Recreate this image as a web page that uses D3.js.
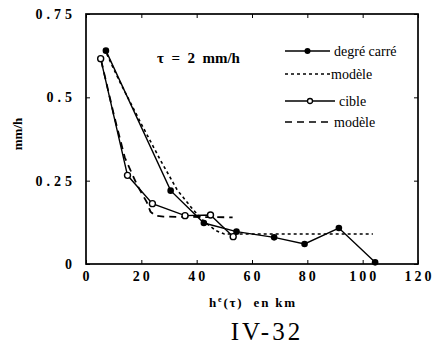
<!DOCTYPE html>
<html>
<head>
<meta charset="utf-8">
<script src="https://cdn.jsdelivr.net/npm/d3@7"></script>
<style>
  html, body { margin: 0; padding: 0; background: #fff; }
  svg { display: block; }
</style>
</head>
<body>
<svg id="chart" width="435" height="348"></svg>
<script>
// Observed rain-rate profile, "degré carré" network
const degreX = [7.2, 30.6, 42.6, 54.4, 68, 79, 91.4, 104.5];
const degreY = [0.64, 0.22, 0.123, 0.097, 0.08, 0.06, 0.108, 0.005];
// Fitted model for "degré carré"
const modeleDegreX = [7.5, 12, 20, 27, 32.9, 38.7, 43, 47, 50, 103.7];
const modeleDegreY = [0.63, 0.55, 0.42, 0.31, 0.223, 0.163, 0.125, 0.1, 0.09, 0.09];
// Observed profile, "cible" network
const cibleX = [5.3, 15, 24, 35.8, 45, 53.2];
const cibleY = [0.616, 0.266, 0.181, 0.145, 0.147, 0.082];
// Fitted model for "cible"
const modeleCibleX = [5.5, 10, 14, 18.4, 22, 23.3, 25, 28, 53];
const modeleCibleY = [0.61, 0.45, 0.32, 0.238, 0.185, 0.157, 0.145, 0.142, 0.14];

const xTicks = [0, 20, 40, 60, 80, 100, 120];
const yTicks = [0, 0.25, 0.5, 0.75];
const yTickLabels = ["0", "0.25", "0.5", "0.75"];

const legendLabels = ["degré carré", "modèle", "cible", "modèle"];

const svg = d3.select("#chart");
const serif = '"Liberation Serif", "Times New Roman", Times, serif';

const plotLeft = 86, plotRight = 418, plotTop = 14, plotBottom = 264;
const x = d3.scaleLinear().domain([0, 120]).range([plotLeft, plotRight]);
const y = d3.scaleLinear().domain([0, 0.75]).range([plotBottom, plotTop]);

// Frame
svg.append("rect")
  .attr("x", plotLeft).attr("y", plotTop)
  .attr("width", plotRight - plotLeft).attr("height", plotBottom - plotTop)
  .attr("fill", "none").attr("stroke", "#000").attr("stroke-width", 1.7);

// Axes with inward ticks
const gx = svg.append("g").attr("transform", `translate(0,${plotBottom})`)
  .call(d3.axisBottom(x).tickValues(xTicks).tickSize(-4).tickPadding(7).tickFormat(d3.format("d")));
const gxTop = svg.append("g").attr("transform", `translate(0,${plotTop})`)
  .call(d3.axisTop(x).tickValues(xTicks).tickSize(-4).tickFormat(""));
const gy = svg.append("g").attr("transform", `translate(${plotLeft},0)`)
  .call(d3.axisLeft(y).tickValues(yTicks).tickSize(-4).tickPadding(6)
    .tickFormat((d, i) => yTickLabels[i]));
const gyR = svg.append("g").attr("transform", `translate(${plotRight},0)`)
  .call(d3.axisRight(y).tickValues(yTicks).tickSize(-4).tickFormat(""));

[gx, gxTop, gy, gyR].forEach(g => {
  g.attr("font-family", serif).attr("font-size", 14).attr("font-weight", "bold");
  g.select(".domain").remove();
  g.selectAll(".tick line").attr("stroke", "#000").attr("stroke-width", 1);
  g.selectAll(".tick text").attr("fill", "#000");
});
gx.selectAll(".tick text").attr("letter-spacing", "3px").attr("dx", "1px");
gy.selectAll(".tick text").attr("letter-spacing", "4px").attr("dx", "-4px");

// Axis titles
const xTitle = svg.append("text")
  .attr("x", 253).attr("y", 307)
  .attr("text-anchor", "middle")
  .attr("font-family", serif).attr("font-weight", "bold").attr("font-size", 13)
  .attr("letter-spacing", "1.8px")
  .style("white-space", "pre");
xTitle.append("tspan").text("h");
xTitle.append("tspan").attr("font-size", 8).attr("dy", -5).text("e");
xTitle.append("tspan").attr("dy", 5).text("(τ)  en km");

svg.append("text")
  .attr("transform", "translate(22,134) rotate(-90)")
  .attr("text-anchor", "middle")
  .attr("font-family", serif).attr("font-weight", "bold").attr("font-size", 13)
  .text("mm/h");

// Page number beneath the chart
svg.append("text")
  .attr("x", 267).attr("y", 340)
  .attr("text-anchor", "middle")
  .attr("font-family", serif).attr("font-size", 25)
  .attr("letter-spacing", "3px")
  .text("IV-32");

// Threshold annotation
svg.append("text")
  .attr("x", 157).attr("y", 63)
  .attr("font-family", serif).attr("font-weight", "bold").attr("font-size", 15)
  .style("white-space", "pre")
  .text("τ  =  2  mm/h");

const line = d3.line().x(d => x(d[0])).y(d => y(d[1]));
const zip = (a, b) => a.map((v, i) => [v, b[i]]);

const plot = svg.append("g");

// Model curves
plot.append("path").datum(zip(modeleDegreX, modeleDegreY))
  .attr("d", line).attr("fill", "none").attr("stroke", "#000")
  .attr("stroke-width", 1.6).attr("stroke-dasharray", "3,3");
plot.append("path").datum(zip(modeleCibleX, modeleCibleY))
  .attr("d", line).attr("fill", "none").attr("stroke", "#000")
  .attr("stroke-width", 1.8).attr("stroke-dasharray", "7,5");

// Observed profiles
const degreData = zip(degreX, degreY);
const cibleData = zip(cibleX, cibleY);
plot.append("path").datum(degreData)
  .attr("d", line).attr("fill", "none").attr("stroke", "#000").attr("stroke-width", 1.4);
plot.append("path").datum(cibleData)
  .attr("d", line).attr("fill", "none").attr("stroke", "#000").attr("stroke-width", 1.4);

plot.selectAll("circle.degre").data(degreData).join("circle")
  .attr("class", "degre")
  .attr("cx", d => x(d[0])).attr("cy", d => y(d[1])).attr("r", 3.3)
  .attr("fill", "#000");
plot.selectAll("circle.cible").data(cibleData).join("circle")
  .attr("class", "cible")
  .attr("cx", d => x(d[0])).attr("cy", d => y(d[1])).attr("r", 3)
  .attr("fill", "#fff").attr("stroke", "#000").attr("stroke-width", 1.4);

// Legend
const legend = svg.append("g");
const legendRows = [
  { y: 51, dash: null, marker: "filled", tx: 334 },
  { y: 74, dash: "3,3", marker: null, tx: 331 },
  { y: 101, dash: null, marker: "open", tx: 339 },
  { y: 122, dash: "7,5", marker: null, tx: 334 }
];
legendRows.forEach((r, i) => {
  const x1 = 285, x2 = r.marker === "open" ? 335 : 330;
  legend.append("line")
    .attr("x1", x1).attr("x2", x2).attr("y1", r.y).attr("y2", r.y)
    .attr("stroke", "#000").attr("stroke-width", r.dash ? 1.6 : 1.4)
    .attr("stroke-dasharray", r.dash);
  if (r.marker === "filled") {
    legend.append("circle").attr("cx", (x1 + x2) / 2).attr("cy", r.y).attr("r", 3).attr("fill", "#000");
  } else if (r.marker === "open") {
    legend.append("circle").attr("cx", (x1 + x2) / 2).attr("cy", r.y).attr("r", 2.5)
      .attr("fill", "#fff").attr("stroke", "#000").attr("stroke-width", 1.3);
  }
  legend.append("text")
    .attr("x", r.tx).attr("y", r.y + 4.5)
    .attr("font-family", serif).attr("font-size", 14)
    .text(legendLabels[i]);
});
</script>
</body>
</html>
